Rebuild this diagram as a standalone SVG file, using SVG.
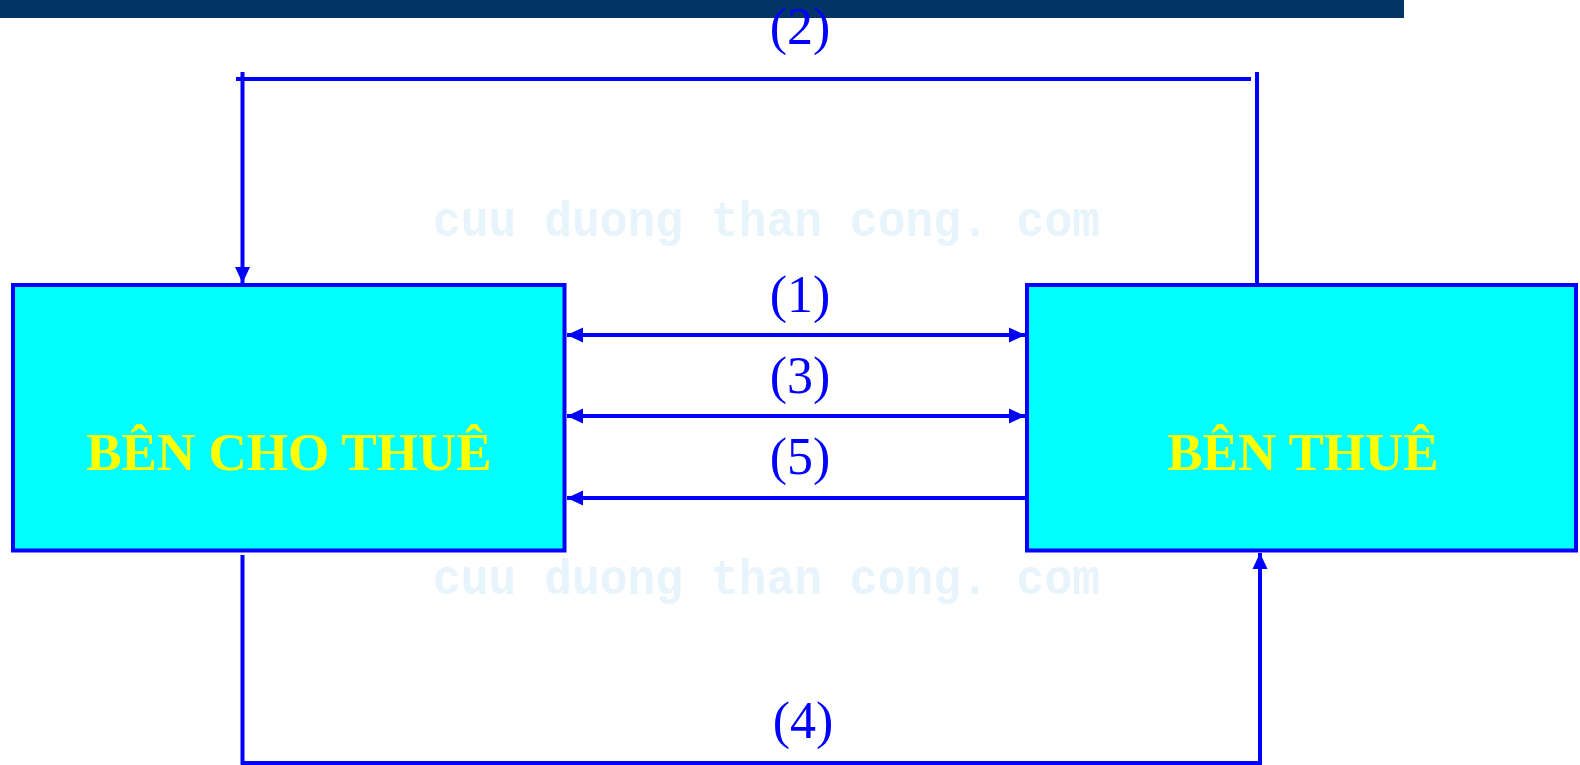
<svg xmlns="http://www.w3.org/2000/svg" width="1580" height="765" viewBox="0 0 1580 765">
  <defs>
    <marker id="head" viewBox="0 0 16 16" refX="16" refY="8" markerWidth="16" markerHeight="16" markerUnits="userSpaceOnUse" orient="auto-start-reverse">
      <path d="M0,0.5 L16,8 L0,15.5 Z" fill="#0000ff"/>
    </marker>
    <style>
      .box { fill: #00ffff; stroke: #0000ff; stroke-width: 4; }
      .title { font-family: "Liberation Serif", "Times New Roman", serif; font-weight: bold; font-size: 53px; fill: #ffff00; text-anchor: middle; }
      .wire { fill: none; stroke: #0000ff; stroke-width: 4; }
      .num { font-family: "Liberation Serif", "Times New Roman", serif; font-size: 52px; fill: #0000ff; text-anchor: middle; }
      .mark { font-family: "Liberation Mono", "DejaVu Sans Mono", monospace; font-weight: bold; font-size: 50px; fill: #e8f4fb; }
    </style>
  </defs>

  <rect width="1580" height="765" fill="#ffffff"/>

  <!-- faint background lettering -->
  <text class="mark" x="433" y="236" textLength="667" lengthAdjust="spacingAndGlyphs">cuu duong than cong. com</text>
  <text class="mark" x="433" y="594" textLength="667" lengthAdjust="spacingAndGlyphs">cuu duong than cong. com</text>

  <!-- header band -->
  <rect x="0" y="0" width="1404" height="18" fill="#023466"/>

  <g id="lessor">
    <rect class="box" x="13" y="285" width="551.5" height="265.5"/>
    <text class="title" x="289" y="470">BÊN CHO THUÊ</text>
  </g>

  <g id="lessee">
    <rect class="box" x="1027" y="285" width="549" height="265.5"/>
    <text class="title" x="1303" y="470">BÊN THUÊ</text>
  </g>

  <g id="connectors">
    <!-- (2) over the top: lessee to lessor -->
    <path class="wire" d="M1257,285 L1257,72"/>
    <path class="wire" d="M1251,79 L236,79"/>
    <path class="wire" d="M242.5,72 L242.5,283" marker-end="url(#head)"/>
    <!-- (1) and (3) both ways -->
    <path class="wire" d="M567,335 L1025,335" marker-start="url(#head)" marker-end="url(#head)"/>
    <path class="wire" d="M567,416 L1025,416" marker-start="url(#head)" marker-end="url(#head)"/>
    <!-- (5) lessee to lessor -->
    <path class="wire" d="M1025,498 L567,498" marker-end="url(#head)"/>
    <!-- (4) under the bottom: lessor to lessee -->
    <path class="wire" d="M242.5,555 L242.5,763 L1260,763 L1260,553" marker-end="url(#head)"/>

    <text class="num" x="800" y="44">(2)</text>
    <text class="num" x="800" y="312">(1)</text>
    <text class="num" x="800" y="393">(3)</text>
    <text class="num" x="800" y="474">(5)</text>
    <text class="num" x="803" y="738">(4)</text>
  </g>
</svg>
